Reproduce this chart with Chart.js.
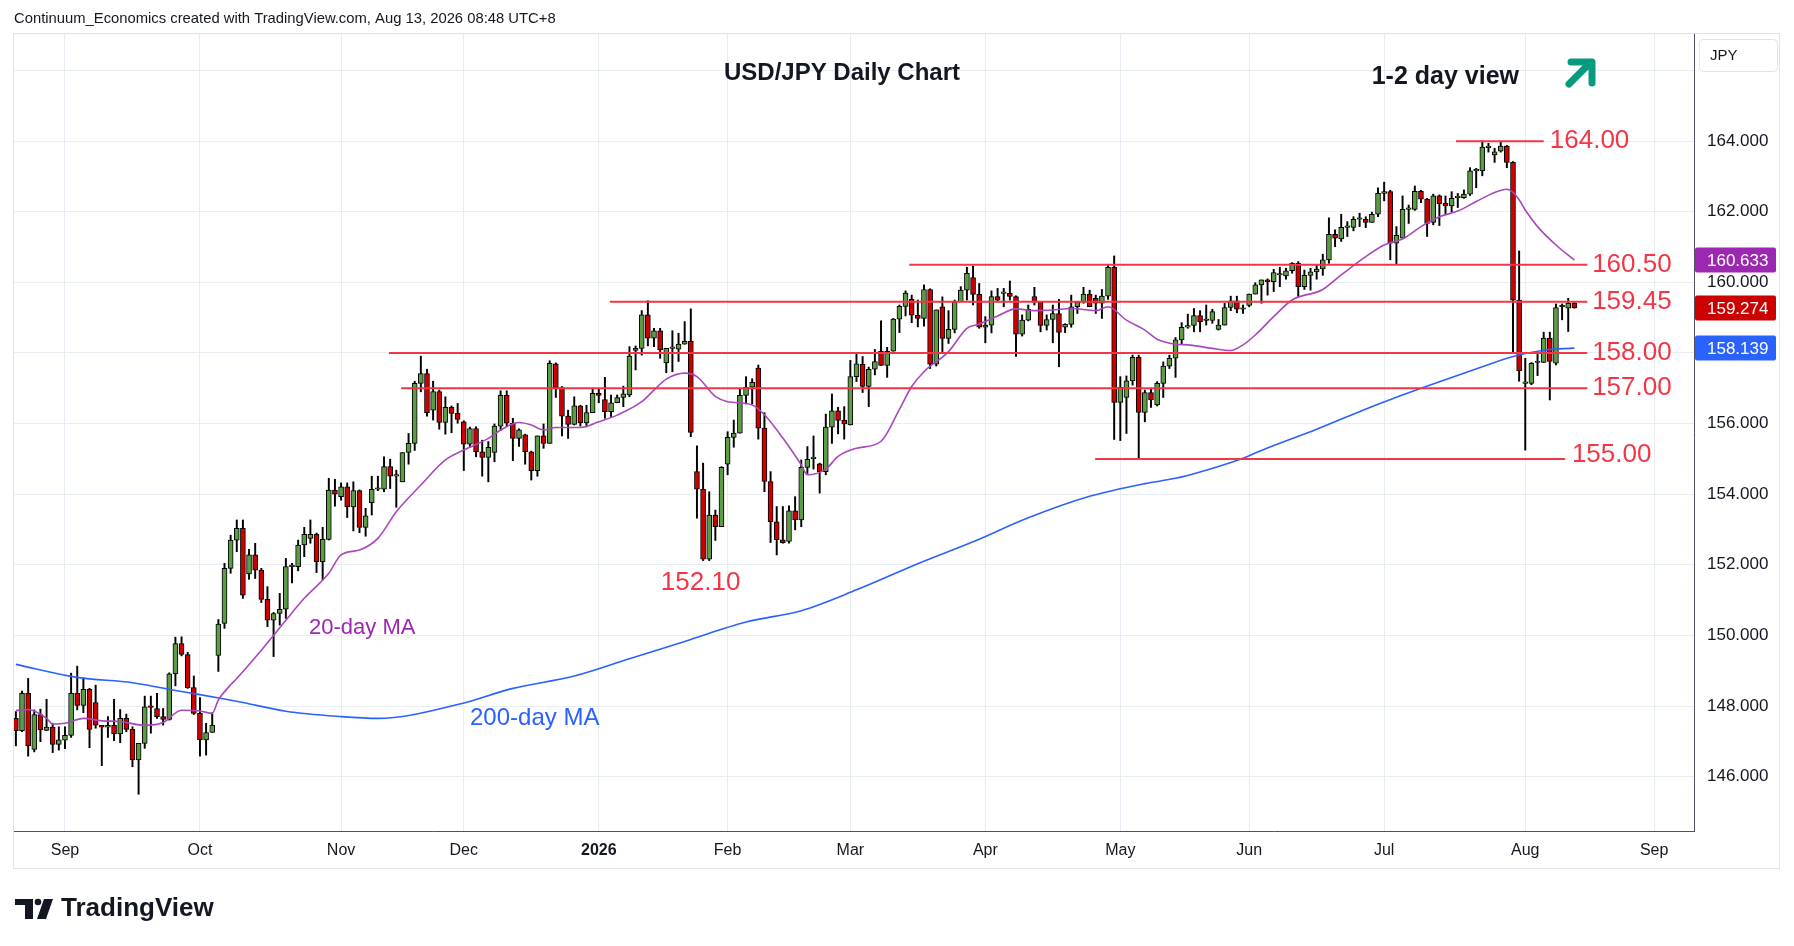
<!DOCTYPE html>
<html>
<head>
<meta charset="utf-8">
<title>USD/JPY Daily Chart</title>
<script src="https://cdn.jsdelivr.net/npm/chart.js@4.4.1/dist/chart.umd.min.js"></script>
<style>
  html, body { margin: 0; padding: 0; background: #fff; }
  canvas { display: block; }
</style>
</head>
<body>
<canvas id="usdjpy" width="1794" height="946"></canvas>
<script>
// daily candles, 20 Aug 2025 .. 13 Aug 2026 (index = trading day, 25 Dec / 1 Jan skipped)
var opens = [
  147.65,147.30,148.36,146.77,147.76,147.31,147.40,146.91,147.03,147.17,
  148.36,148.02,148.47,148.10,147.45,147.40,147.45,147.21,147.65,147.34,
  146.47,146.94,148.00,147.93,147.70,147.62,148.91,149.77,149.46,148.52,
  147.79,147.04,147.25,149.43,150.34,151.90,152.70,153.03,151.74,152.28,
  151.85,151.02,150.43,150.62,150.74,151.95,151.95,152.56,152.75,152.86,
  152.09,152.72,154.12,153.93,154.21,153.64,154.10,153.06,153.76,154.14,
  154.14,154.78,154.51,154.35,155.18,155.44,157.14,157.42,156.38,156.91,
  156.03,156.46,156.29,156.05,155.42,155.86,155.20,155.04,155.18,155.93,
  156.80,156.01,155.58,155.68,155.20,154.67,155.65,155.44,157.69,157.02,
  156.21,155.98,156.50,156.02,156.31,156.86,156.68,156.34,156.59,156.74,
  156.81,158.07,158.13,159.08,158.42,158.63,157.72,158.13,158.11,158.25,
  158.33,154.64,154.14,152.16,153.41,153.08,154.85,155.61,155.73,156.80,
  157.03,157.57,155.87,154.36,153.22,152.71,152.66,153.53,153.27,154.76,
  155.01,154.86,154.64,155.90,156.36,156.10,155.96,157.33,157.68,157.05,
  157.54,158.05,157.65,158.05,158.96,159.32,159.52,159.07,158.98,159.80,
  157.68,159.31,158.41,158.67,159.45,159.78,160.14,159.66,158.73,158.79,
  159.60,159.69,159.69,159.60,158.53,158.93,159.60,159.44,158.78,158.95,
  159.12,158.73,158.81,159.31,159.44,159.67,159.55,159.41,159.61,160.43,
  156.60,156.74,157.21,157.88,156.32,156.88,156.53,157.14,157.63,157.85,
  158.37,158.73,158.78,159.06,158.92,158.92,158.67,158.79,159.29,159.48,
  159.24,159.35,159.67,159.93,160.07,160.02,160.21,160.18,160.33,160.54,
  159.88,160.20,160.30,160.38,160.64,161.36,161.23,161.56,161.56,161.79,
  161.79,161.70,161.93,162.52,162.57,161.11,161.25,162.07,162.07,162.58,
  162.36,161.70,162.45,162.24,162.17,162.40,162.40,162.50,163.16,163.16,
  163.82,163.61,163.72,163.86,163.40,159.50,157.14,157.14,157.73,157.73,
  158.42,157.71,159.31,159.27,159.41
];
var highs = [
  147.84,148.42,148.78,147.89,147.91,148.19,147.51,147.41,147.41,148.93,
  149.13,148.80,148.50,148.59,147.45,147.70,148.19,147.90,147.77,147.41,
  146.94,148.28,148.28,148.36,147.93,148.94,149.95,149.96,149.52,148.85,
  148.24,147.51,147.81,150.45,152.04,152.84,153.27,153.27,152.44,152.61,
  151.90,151.38,150.65,151.19,152.18,152.04,152.70,153.06,153.27,152.90,
  153.06,154.45,154.42,154.32,154.32,154.35,154.12,153.60,154.51,154.51,
  155.06,154.99,154.68,155.18,155.72,157.20,157.91,157.54,157.20,156.95,
  156.76,156.50,156.57,156.08,155.90,155.91,155.53,155.49,155.99,156.93,
  156.93,156.15,155.85,155.70,155.22,155.65,155.99,157.78,157.72,157.05,
  156.38,156.76,156.52,156.52,157.00,157.00,157.31,156.81,156.81,157.06,
  158.18,158.20,159.20,159.48,158.70,158.70,158.13,158.63,158.56,158.89,
  159.25,155.37,154.88,154.07,153.55,154.78,155.77,156.10,156.97,157.33,
  157.27,157.66,156.31,154.64,153.65,153.65,153.67,153.93,154.97,155.35,
  155.65,154.88,156.27,156.84,156.46,156.48,157.79,157.97,157.90,157.60,
  158.10,158.91,158.16,158.98,159.36,159.76,159.64,159.50,159.93,159.82,
  159.22,159.59,159.20,159.50,159.88,160.43,160.46,159.97,159.03,159.76,
  159.83,159.83,160.04,159.62,159.08,159.36,159.86,159.46,159.08,159.36,
  159.52,158.83,159.64,159.46,159.86,159.78,159.64,159.80,160.49,160.75,
  157.33,157.35,157.94,157.94,156.95,156.98,157.19,157.75,157.94,158.44,
  158.86,159.10,159.26,159.20,159.36,159.24,158.95,159.41,159.61,159.61,
  159.36,159.67,159.99,160.07,160.10,160.37,160.43,160.40,160.56,160.59,
  160.35,160.40,160.50,160.80,161.83,161.49,161.93,161.72,161.86,161.96,
  161.86,161.99,162.68,162.84,162.61,161.58,162.45,162.19,162.73,162.61,
  162.38,162.50,162.48,162.45,162.57,162.52,162.62,163.25,163.23,164.01,
  163.94,163.80,163.99,163.88,163.42,160.89,157.85,157.73,157.96,158.59,
  158.59,159.39,159.39,159.55,159.46
];
var lows = [
  146.87,147.27,146.58,146.70,146.99,147.30,146.68,146.75,146.79,147.11,
  147.89,147.81,146.82,147.37,146.31,147.11,147.02,146.96,147.27,146.28,
  145.50,146.80,147.23,147.65,147.46,147.60,148.57,149.42,148.50,147.76,
  146.58,146.61,147.25,148.98,150.20,151.76,152.37,151.05,151.59,151.61,
  150.93,150.25,149.40,150.29,150.48,151.49,151.83,152.23,152.61,151.78,
  151.57,152.70,153.66,153.83,153.34,152.96,152.91,152.81,153.41,154.10,
  154.07,154.16,153.63,154.35,154.85,155.24,156.90,156.21,156.10,155.84,
  155.70,155.74,156.01,154.67,155.35,155.06,154.51,154.35,154.92,155.80,
  155.91,154.95,155.35,154.85,154.40,154.51,155.30,155.44,156.74,155.65,
  155.58,155.96,155.93,155.91,156.31,156.59,156.15,156.20,156.59,156.48,
  156.76,157.52,157.94,158.20,158.18,157.85,157.44,157.47,157.76,158.25,
  155.63,153.32,152.12,152.12,152.69,153.08,154.55,155.33,155.73,156.56,
  156.56,155.56,154.07,152.63,152.28,152.61,152.61,152.99,153.08,154.59,
  154.71,154.03,154.55,155.44,155.71,155.56,155.96,157.19,156.88,156.48,
  157.38,157.65,157.31,158.05,158.58,159.05,158.86,158.74,158.76,157.56,
  157.63,158.04,158.27,158.57,159.45,159.50,159.36,158.70,158.29,158.57,
  159.45,159.31,159.50,157.90,158.48,158.91,159.36,158.60,158.65,158.29,
  157.61,158.58,158.73,159.12,159.41,159.31,159.12,158.98,159.52,155.55,
  155.52,155.72,157.09,155.02,156.05,156.46,156.50,156.74,157.56,157.31,
  158.25,158.70,158.60,158.60,158.79,158.84,158.65,158.79,159.20,159.14,
  159.12,159.31,159.67,159.41,159.64,159.74,159.88,160.09,160.26,159.59,
  159.80,159.78,160.09,160.20,160.54,161.01,161.16,161.30,161.46,161.58,
  161.55,161.70,161.86,162.31,160.64,160.51,161.25,161.67,162.04,162.26,
  161.30,161.63,161.61,161.93,161.99,162.12,162.38,162.46,162.68,163.02,
  163.69,163.40,163.69,163.25,158.00,157.20,155.25,157.10,157.36,157.73,
  156.67,157.66,158.94,158.61,159.27
];
var closes = [
  147.30,148.36,146.87,147.76,147.32,147.40,146.91,147.04,147.17,148.36,
  148.02,148.47,147.34,147.46,147.40,147.45,147.21,147.65,147.34,146.47,
  146.94,147.98,147.96,147.70,147.62,148.91,149.77,149.46,148.52,147.79,
  147.04,147.25,147.46,150.32,151.90,152.70,153.03,151.14,152.28,151.85,
  151.02,150.43,150.62,150.74,151.95,151.95,152.56,152.86,152.86,152.09,
  152.72,154.12,154.00,154.21,153.64,154.10,153.06,153.39,154.14,154.14,
  154.78,154.51,154.51,155.18,155.44,157.14,157.42,156.31,156.91,156.03,
  156.46,156.29,156.12,155.42,155.86,155.20,155.04,155.33,155.93,156.80,
  156.01,155.58,155.82,155.20,154.67,155.65,155.44,157.71,157.02,156.21,
  155.98,156.50,156.02,156.31,156.86,156.80,156.34,156.59,156.74,156.84,
  157.91,158.13,159.08,158.42,158.63,158.09,158.13,158.13,158.25,158.33,
  155.75,154.14,152.16,153.41,153.08,154.76,155.61,155.73,156.80,157.03,
  157.17,155.87,154.36,153.22,152.71,152.63,153.53,153.27,154.76,154.99,
  155.01,154.64,155.90,156.36,156.09,155.99,157.33,157.69,157.05,157.54,
  157.76,157.65,158.05,158.96,159.32,159.70,159.07,158.98,159.80,157.68,
  159.22,158.41,158.67,159.45,159.78,160.26,159.66,158.73,158.79,159.60,
  159.50,159.69,159.60,158.53,158.93,159.24,159.44,158.78,158.95,159.12,
  158.58,158.81,159.31,159.44,159.67,159.31,159.41,159.61,160.43,156.60,
  157.03,157.21,157.88,156.32,156.88,156.67,157.14,157.63,157.85,158.37,
  158.73,158.78,159.06,158.89,158.92,159.17,158.79,159.29,159.48,159.24,
  159.24,159.67,159.93,160.07,160.02,160.28,160.21,160.33,160.54,159.88,
  160.20,160.30,160.38,160.64,161.36,161.25,161.56,161.56,161.79,161.79,
  161.70,161.93,162.52,162.57,161.11,161.33,162.07,162.07,162.58,162.36,
  161.67,162.45,162.23,162.17,162.38,162.40,162.50,163.16,163.16,163.83,
  163.82,163.70,163.86,163.40,159.50,157.49,157.14,157.71,157.73,158.42,
  157.76,159.29,159.31,159.41,159.274
];

// moving averages (bar index, value)
var ma20Idx = [0,2,5,6,8,11,14,17,21,24,27,30,32,33,35,36,40,44,47,51,53,56,59,62,66,70,73,77,79,82,84,86,88,92,95,98,102,104,106,109,111,114,116,120,122,125,128,129,132,134,137,141,144,146,148,152,155,157,160,163,166,169,172,176,178,181,184,186,189,191,195,198,200,202,205,208,213,216,220,223,226,229,232,235,238,241,243,244,245,246,248,251,254];
var ma20Val = [147.87,147.90,147.65,147.49,147.51,147.65,147.58,147.56,147.45,147.53,147.88,147.86,147.79,148.17,148.60,148.78,149.58,150.43,151.05,151.76,152.28,152.42,152.75,153.50,154.26,154.97,155.25,155.58,155.82,156.03,155.96,155.82,155.89,155.89,156.05,156.24,156.62,156.95,157.26,157.43,157.33,156.77,156.62,156.53,156.25,155.59,154.83,154.55,154.71,155.07,155.30,155.50,156.40,157.05,157.47,158.04,158.70,158.82,159.05,159.25,159.20,159.22,159.26,159.20,159.31,158.93,158.65,158.39,158.25,158.23,158.13,158.07,158.23,158.51,159.03,159.50,159.80,160.21,160.73,161.06,161.23,161.58,161.86,162.02,162.29,162.55,162.64,162.55,162.34,162.05,161.58,161.06,160.633];
var ma200Idx = [0,10,19,27,34,37,44,53,59,72,81,91,100,109,119,128,137,147,156,165,175,184,189,193,200,203,212,222,229,239,244,249,254];
var ma200Val = [149.18,148.81,148.66,148.41,148.20,148.10,147.85,147.70,147.65,148.04,148.50,148.85,149.34,149.83,150.38,150.70,151.29,152.03,152.65,153.33,153.94,154.30,154.45,154.63,155.02,155.24,155.84,156.55,157.00,157.61,157.90,158.08,158.139];

// x axis: first bar of each month
var monthIdx = [8, 30, 53, 73, 95, 116, 136, 158, 180, 201, 223, 246, 267];
var monthLbl = ["Sep", "Oct", "Nov", "Dec", "2026", "Feb", "Mar", "Apr", "May", "Jun", "Jul", "Aug", "Sep"];
var priceTicks = [146, 148, 150, 152, 154, 156, 158, 160, 162, 164, 166];

// support / resistance lines drawn by the analyst
var levels = [164.00, 160.50, 159.45, 158.00, 157.00, 155.00];
var levelFrom = [234.7, 145.6, 96.8, 60.8, 62.8, 175.9];
var levelTo = [249.0, 256.1, 256.1, 256.1, 256.1, 252.5];
var lowLabel = 152.10;

var FONT = '"Liberation Sans", Arial, sans-serif';
var UP = '#5d9b47', DOWN = '#cc0000', LEVEL = '#f23645';
var MA20_COL = '#ab47bc', MA200_COL = '#2962ff';

function pts(idx, val) {
  return idx.map(function (x, k) { return { x: x, y: val[k] }; });
}

var datasets = [
  {
    type: 'bar',
    data: lows.map(function (l, i) { return { x: i, y: [l, highs[i]] }; }),
    backgroundColor: '#000',
    barThickness: 1.3,
    grouped: false,
    order: 3
  },
  {
    type: 'bar',
    data: opens.map(function (o, i) { return { x: i, y: [o, closes[i]] }; }),
    backgroundColor: function (ctx) {
      var i = ctx.dataIndex;
      return closes[i] >= opens[i] ? UP : DOWN;
    },
    borderColor: '#000',
    borderWidth: 1,
    borderSkipped: false,
    barThickness: 5,
    minBarLength: 1.5,
    grouped: false,
    order: 2
  },
  {
    type: 'line',
    data: pts(ma20Idx, ma20Val),
    borderColor: MA20_COL,
    borderWidth: 1.6,
    pointRadius: 0,
    cubicInterpolationMode: 'monotone',
    order: 1
  },
  {
    type: 'line',
    data: pts(ma200Idx, ma200Val),
    borderColor: MA200_COL,
    borderWidth: 1.6,
    pointRadius: 0,
    cubicInterpolationMode: 'monotone',
    order: 1
  }
];
levels.forEach(function (lv, k) {
  datasets.push({
    type: 'line',
    data: [{ x: levelFrom[k], y: lv }, { x: levelTo[k], y: lv }],
    borderColor: LEVEL,
    borderWidth: 2,
    pointRadius: 0,
    order: 0
  });
});

function txt(c, s, x, y, size, weight, color, align) {
  c.font = (weight || 'normal') + ' ' + size + 'px ' + FONT;
  c.fillStyle = color;
  c.textAlign = align || 'left';
  c.textBaseline = 'middle';
  c.fillText(s, x, y);
}

var decor = {
  id: 'decor',
  beforeDraw: function (chart) {
    var c = chart.ctx;
    c.save();
    c.fillStyle = '#fff';
    c.fillRect(0, 0, chart.width, chart.height);
    c.restore();
  },
  afterDraw: function (chart) {
    var c = chart.ctx, xs = chart.scales.x, ys = chart.scales.y;
    c.save();

    // widget frame
    c.strokeStyle = '#e0e3eb';
    c.lineWidth = 1;
    c.strokeRect(13.5, 33.5, 1766, 835);

    txt(c, 'Continuum_Economics created with TradingView.com, Aug 13, 2026 08:48 UTC+8', 14, 19, 14.8, 'normal', '#131722');
    txt(c, 'USD/JPY Daily Chart', 842, 73, 24, 'bold', '#131722', 'center');
    txt(c, '1-2 day view', 1519, 77, 25, 'bold', '#131722', 'right');

    // up arrow
    c.strokeStyle = '#089981';
    c.lineWidth = 7;
    c.lineCap = 'round';
    c.lineJoin = 'round';
    c.beginPath();
    c.moveTo(1569, 84);
    c.lineTo(1590, 63);
    c.moveTo(1571, 62);
    c.lineTo(1592, 62);
    c.lineTo(1592, 83);
    c.stroke();

    // level labels
    var labelAt = [250.0, 256.9, 256.9, 256.9, 256.9, 253.6];
    var labelDy = [0, 0, 0, 0, 0, -4];
    levels.forEach(function (lv, k) {
      txt(c, lv.toFixed(2), xs.getPixelForValue(labelAt[k]), ys.getPixelForValue(lv) + labelDy[k], 26, 'normal', LEVEL);
    });
    txt(c, lowLabel.toFixed(2), xs.getPixelForValue(111.6), ys.getPixelForValue(lowLabel) + 22, 26, 'normal', LEVEL, 'center');

    txt(c, '20-day MA', 309, 628, 22, 'normal', '#9c27b0');
    txt(c, '200-day MA', 470, 718, 24, 'normal', MA200_COL);

    // currency box on the price axis
    c.strokeStyle = '#e0e3eb';
    c.lineWidth = 1;
    c.beginPath();
    c.roundRect(1699.5, 39.5, 78, 32, 4);
    c.stroke();
    txt(c, 'JPY', 1710, 56, 15, 'normal', '#131722');

    // last-value boxes
    var boxes = [
      [ma20Val[ma20Val.length - 1], '#9c27b0'],
      [closes[closes.length - 1], DOWN],
      [ma200Val[ma200Val.length - 1], MA200_COL]
    ];
    boxes.forEach(function (b) {
      var y = ys.getPixelForValue(b[0]);
      c.fillStyle = b[1];
      c.beginPath();
      c.roundRect(1695, y - 12.5, 81, 25, 2);
      c.fill();
      txt(c, b[0].toFixed(3), 1707, y + 1, 17, 'normal', '#fff');
    });

    // TradingView logo
    c.fillStyle = '#131722';
    c.fillRect(15, 899, 18, 6);
    c.fillRect(25, 899, 8, 20);
    c.beginPath();
    c.arc(38, 902, 3.3, 0, Math.PI * 2);
    c.fill();
    c.beginPath();
    c.moveTo(44, 899);
    c.lineTo(53, 899);
    c.lineTo(46, 919);
    c.lineTo(37, 919);
    c.closePath();
    c.fill();
    txt(c, 'TradingView', 61, 909, 26, 'bold', '#131722');

    c.restore();
  }
};

var ctx = document.getElementById('usdjpy').getContext('2d');
new Chart(ctx, {
  type: 'bar',
  data: { datasets: datasets },
  options: {
    responsive: false,
    animation: false,
    devicePixelRatio: 1,
    layout: { padding: { left: 13, top: 33, right: 14, bottom: 77 } },
    plugins: {
      legend: { display: false },
      tooltip: { enabled: false }
    },
    scales: {
      x: {
        type: 'linear',
        min: -0.47,
        max: 273.5,
        offset: false,
        grid: { color: '#e8edf3', drawTicks: false, offset: false },
        border: { color: '#50535e', width: 1 },
        afterBuildTicks: function (s) {
          s.ticks = monthIdx.map(function (v) { return { value: v }; });
        },
        afterFit: function (s) { s.height = 38; },
        ticks: {
          autoSkip: false,
          maxRotation: 0,
          padding: 10,
          color: '#131722',
          font: function (c) {
            return { family: FONT, size: 16, weight: c.tick && c.tick.value === 95 ? 'bold' : 'normal' };
          },
          callback: function (v) { return monthLbl[monthIdx.indexOf(v)]; }
        }
      },
      y: {
        position: 'right',
        min: 144.459,
        max: 167.065,
        grid: { color: '#e8edf3', drawTicks: false },
        border: { color: '#50535e', width: 1 },
        afterBuildTicks: function (s) {
          s.ticks = priceTicks.map(function (v) { return { value: v }; });
        },
        afterFit: function (s) { s.width = 86; },
        ticks: {
          padding: 13,
          color: '#131722',
          font: { family: FONT, size: 17 },
          callback: function (v) { return v === 166 ? '' : v.toFixed(3); }
        }
      }
    }
  },
  plugins: [decor]
});
</script>
</body>
</html>
